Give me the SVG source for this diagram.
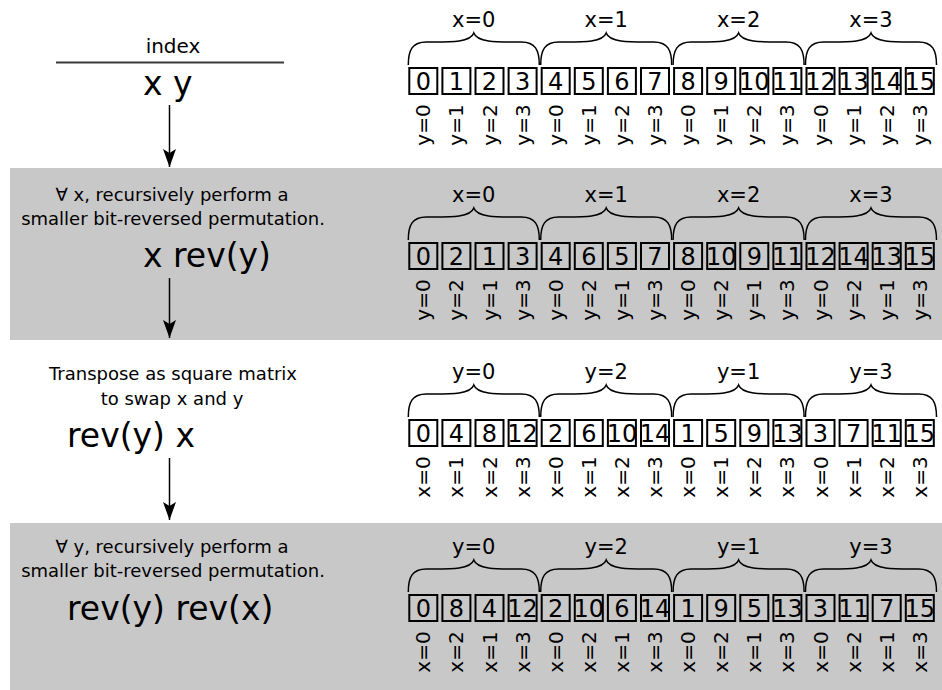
<svg xmlns="http://www.w3.org/2000/svg" xmlns:xlink="http://www.w3.org/1999/xlink" width="942" height="690" viewBox="0 0 942 690">
<style>
text{font-family:"DejaVu Sans","Liberation Sans",sans-serif;fill:#000}
.band{fill:#c8c8c8}
.cell{fill:none;stroke:#000;stroke-width:2}
.num{font-size:24px;text-anchor:middle}
.lab{font-size:20px;text-anchor:middle}
.blab{font-size:21px;text-anchor:middle}
.small{font-size:18px;text-anchor:middle}
.big{font-size:33px}
.brace{fill:none;stroke:#000;stroke-width:1.5}
.conn{stroke:#000;stroke-width:1.5;fill:none}
</style>
<defs>
<path id="br" class="brace" d="M0,0 C0,-15 4,-23 18,-23 C40,-23 62,-22 65.5,-32 C69,-22 91,-23 113,-23 C127,-23 131,-15 131,0"/>
<marker id="ah" viewBox="0 0 20 14" refX="18" refY="7" markerWidth="20" markerHeight="14" markerUnits="userSpaceOnUse" orient="auto">
<path d="M18,7 L0,0.5 L4,7 L0,13.5 Z" fill="#000"/>
</marker>
</defs>
<rect class="band" x="10" y="168" width="932" height="172"/>
<rect class="band" x="10" y="523" width="932" height="167"/>

<g id="label-index">
<text x="173" y="53" style="font-size:20px;text-anchor:middle">index</text>
<line x1="56" y1="62.5" x2="284" y2="62.5" stroke="#3a3a3a" stroke-width="2"/>
<text class="big" x="143" y="95">x y</text>
</g>
<g id="label-step1">
<text class="small" x="172" y="201">∀ x, recursively perform a</text>
<text class="small" x="173" y="225">smaller bit-reversed permutation.</text>
<text class="big" x="143" y="267">x rev(y)</text>
</g>
<g id="label-step2">
<text class="small" x="173" y="380">Transpose as square matrix</text>
<text class="small" x="172" y="405">to swap x and y</text>
<text class="big" x="67" y="447">rev(y) x</text>
</g>
<g id="label-step3">
<text class="small" x="172" y="553">∀ y, recursively perform a</text>
<text class="small" x="173" y="577">smaller bit-reversed permutation.</text>
<text class="big" x="67" y="620">rev(y) rev(x)</text>
</g>

<g id="connectors">
<line class="conn" x1="169.5" y1="105" x2="169.5" y2="167" marker-end="url(#ah)"/>
<line class="conn" x1="169.5" y1="278" x2="169.5" y2="338" marker-end="url(#ah)"/>
<line class="conn" x1="169.5" y1="458" x2="169.5" y2="520" marker-end="url(#ah)"/>
</g>

<g id="row1">
<use xlink:href="#br" x="408.3" y="65"/><use xlink:href="#br" x="540.7" y="65"/><use xlink:href="#br" x="673.1" y="65"/><use xlink:href="#br" x="805.5" y="65"/>
<text class="blab" x="473.8" y="27">x=0</text><text class="blab" x="606.2" y="27">x=1</text><text class="blab" x="738.6" y="27">x=2</text><text class="blab" x="871" y="27">x=3</text>
<rect class="cell" x="409.3" y="68" width="28" height="26"/><rect class="cell" x="442.4" y="68" width="28" height="26"/><rect class="cell" x="475.5" y="68" width="28" height="26"/><rect class="cell" x="508.6" y="68" width="28" height="26"/><rect class="cell" x="541.7" y="68" width="28" height="26"/><rect class="cell" x="574.8" y="68" width="28" height="26"/><rect class="cell" x="607.9" y="68" width="28" height="26"/><rect class="cell" x="641" y="68" width="28" height="26"/><rect class="cell" x="674.1" y="68" width="28" height="26"/><rect class="cell" x="707.2" y="68" width="28" height="26"/><rect class="cell" x="740.3" y="68" width="28" height="26"/><rect class="cell" x="773.4" y="68" width="28" height="26"/><rect class="cell" x="806.5" y="68" width="28" height="26"/><rect class="cell" x="839.6" y="68" width="28" height="26"/><rect class="cell" x="872.7" y="68" width="28" height="26"/><rect class="cell" x="905.8" y="68" width="28" height="26"/>
<text class="num" x="423.3" y="90">0</text><text class="num" x="456.4" y="90">1</text><text class="num" x="489.5" y="90">2</text><text class="num" x="522.6" y="90">3</text><text class="num" x="555.7" y="90">4</text><text class="num" x="588.8" y="90">5</text><text class="num" x="621.9" y="90">6</text><text class="num" x="655" y="90">7</text><text class="num" x="688.1" y="90">8</text><text class="num" x="721.2" y="90">9</text><text class="num" x="754.3" y="90">10</text><text class="num" x="787.4" y="90">11</text><text class="num" x="820.5" y="90">12</text><text class="num" x="853.6" y="90">13</text><text class="num" x="886.7" y="90">14</text><text class="num" x="919.8" y="90">15</text>
<text class="lab" transform="translate(430.3,125) rotate(-90)">y=0</text><text class="lab" transform="translate(463.4,125) rotate(-90)">y=1</text><text class="lab" transform="translate(496.5,125) rotate(-90)">y=2</text><text class="lab" transform="translate(529.6,125) rotate(-90)">y=3</text><text class="lab" transform="translate(562.7,125) rotate(-90)">y=0</text><text class="lab" transform="translate(595.8,125) rotate(-90)">y=1</text><text class="lab" transform="translate(628.9,125) rotate(-90)">y=2</text><text class="lab" transform="translate(662,125) rotate(-90)">y=3</text><text class="lab" transform="translate(695.1,125) rotate(-90)">y=0</text><text class="lab" transform="translate(728.2,125) rotate(-90)">y=1</text><text class="lab" transform="translate(761.3,125) rotate(-90)">y=2</text><text class="lab" transform="translate(794.4,125) rotate(-90)">y=3</text><text class="lab" transform="translate(827.5,125) rotate(-90)">y=0</text><text class="lab" transform="translate(860.6,125) rotate(-90)">y=1</text><text class="lab" transform="translate(893.7,125) rotate(-90)">y=2</text><text class="lab" transform="translate(926.8,125) rotate(-90)">y=3</text>
</g>

<g id="row2" transform="translate(0,175)">
<use xlink:href="#br" x="408.3" y="65"/><use xlink:href="#br" x="540.7" y="65"/><use xlink:href="#br" x="673.1" y="65"/><use xlink:href="#br" x="805.5" y="65"/>
<text class="blab" x="473.8" y="27">x=0</text><text class="blab" x="606.2" y="27">x=1</text><text class="blab" x="738.6" y="27">x=2</text><text class="blab" x="871" y="27">x=3</text>
<rect class="cell" x="409.3" y="68" width="28" height="26"/><rect class="cell" x="442.4" y="68" width="28" height="26"/><rect class="cell" x="475.5" y="68" width="28" height="26"/><rect class="cell" x="508.6" y="68" width="28" height="26"/><rect class="cell" x="541.7" y="68" width="28" height="26"/><rect class="cell" x="574.8" y="68" width="28" height="26"/><rect class="cell" x="607.9" y="68" width="28" height="26"/><rect class="cell" x="641" y="68" width="28" height="26"/><rect class="cell" x="674.1" y="68" width="28" height="26"/><rect class="cell" x="707.2" y="68" width="28" height="26"/><rect class="cell" x="740.3" y="68" width="28" height="26"/><rect class="cell" x="773.4" y="68" width="28" height="26"/><rect class="cell" x="806.5" y="68" width="28" height="26"/><rect class="cell" x="839.6" y="68" width="28" height="26"/><rect class="cell" x="872.7" y="68" width="28" height="26"/><rect class="cell" x="905.8" y="68" width="28" height="26"/>
<text class="num" x="423.3" y="90">0</text><text class="num" x="456.4" y="90">2</text><text class="num" x="489.5" y="90">1</text><text class="num" x="522.6" y="90">3</text><text class="num" x="555.7" y="90">4</text><text class="num" x="588.8" y="90">6</text><text class="num" x="621.9" y="90">5</text><text class="num" x="655" y="90">7</text><text class="num" x="688.1" y="90">8</text><text class="num" x="721.2" y="90">10</text><text class="num" x="754.3" y="90">9</text><text class="num" x="787.4" y="90">11</text><text class="num" x="820.5" y="90">12</text><text class="num" x="853.6" y="90">14</text><text class="num" x="886.7" y="90">13</text><text class="num" x="919.8" y="90">15</text>
<text class="lab" transform="translate(430.3,125) rotate(-90)">y=0</text><text class="lab" transform="translate(463.4,125) rotate(-90)">y=2</text><text class="lab" transform="translate(496.5,125) rotate(-90)">y=1</text><text class="lab" transform="translate(529.6,125) rotate(-90)">y=3</text><text class="lab" transform="translate(562.7,125) rotate(-90)">y=0</text><text class="lab" transform="translate(595.8,125) rotate(-90)">y=2</text><text class="lab" transform="translate(628.9,125) rotate(-90)">y=1</text><text class="lab" transform="translate(662,125) rotate(-90)">y=3</text><text class="lab" transform="translate(695.1,125) rotate(-90)">y=0</text><text class="lab" transform="translate(728.2,125) rotate(-90)">y=2</text><text class="lab" transform="translate(761.3,125) rotate(-90)">y=1</text><text class="lab" transform="translate(794.4,125) rotate(-90)">y=3</text><text class="lab" transform="translate(827.5,125) rotate(-90)">y=0</text><text class="lab" transform="translate(860.6,125) rotate(-90)">y=2</text><text class="lab" transform="translate(893.7,125) rotate(-90)">y=1</text><text class="lab" transform="translate(926.8,125) rotate(-90)">y=3</text>
</g>

<g id="row3" transform="translate(0,352)">
<use xlink:href="#br" x="408.3" y="65"/><use xlink:href="#br" x="540.7" y="65"/><use xlink:href="#br" x="673.1" y="65"/><use xlink:href="#br" x="805.5" y="65"/>
<text class="blab" x="473.8" y="27">y=0</text><text class="blab" x="606.2" y="27">y=2</text><text class="blab" x="738.6" y="27">y=1</text><text class="blab" x="871" y="27">y=3</text>
<rect class="cell" x="409.3" y="68" width="28" height="26"/><rect class="cell" x="442.4" y="68" width="28" height="26"/><rect class="cell" x="475.5" y="68" width="28" height="26"/><rect class="cell" x="508.6" y="68" width="28" height="26"/><rect class="cell" x="541.7" y="68" width="28" height="26"/><rect class="cell" x="574.8" y="68" width="28" height="26"/><rect class="cell" x="607.9" y="68" width="28" height="26"/><rect class="cell" x="641" y="68" width="28" height="26"/><rect class="cell" x="674.1" y="68" width="28" height="26"/><rect class="cell" x="707.2" y="68" width="28" height="26"/><rect class="cell" x="740.3" y="68" width="28" height="26"/><rect class="cell" x="773.4" y="68" width="28" height="26"/><rect class="cell" x="806.5" y="68" width="28" height="26"/><rect class="cell" x="839.6" y="68" width="28" height="26"/><rect class="cell" x="872.7" y="68" width="28" height="26"/><rect class="cell" x="905.8" y="68" width="28" height="26"/>
<text class="num" x="423.3" y="90">0</text><text class="num" x="456.4" y="90">4</text><text class="num" x="489.5" y="90">8</text><text class="num" x="522.6" y="90">12</text><text class="num" x="555.7" y="90">2</text><text class="num" x="588.8" y="90">6</text><text class="num" x="621.9" y="90">10</text><text class="num" x="655" y="90">14</text><text class="num" x="688.1" y="90">1</text><text class="num" x="721.2" y="90">5</text><text class="num" x="754.3" y="90">9</text><text class="num" x="787.4" y="90">13</text><text class="num" x="820.5" y="90">3</text><text class="num" x="853.6" y="90">7</text><text class="num" x="886.7" y="90">11</text><text class="num" x="919.8" y="90">15</text>
<text class="lab" transform="translate(430.3,125) rotate(-90)">x=0</text><text class="lab" transform="translate(463.4,125) rotate(-90)">x=1</text><text class="lab" transform="translate(496.5,125) rotate(-90)">x=2</text><text class="lab" transform="translate(529.6,125) rotate(-90)">x=3</text><text class="lab" transform="translate(562.7,125) rotate(-90)">x=0</text><text class="lab" transform="translate(595.8,125) rotate(-90)">x=1</text><text class="lab" transform="translate(628.9,125) rotate(-90)">x=2</text><text class="lab" transform="translate(662,125) rotate(-90)">x=3</text><text class="lab" transform="translate(695.1,125) rotate(-90)">x=0</text><text class="lab" transform="translate(728.2,125) rotate(-90)">x=1</text><text class="lab" transform="translate(761.3,125) rotate(-90)">x=2</text><text class="lab" transform="translate(794.4,125) rotate(-90)">x=3</text><text class="lab" transform="translate(827.5,125) rotate(-90)">x=0</text><text class="lab" transform="translate(860.6,125) rotate(-90)">x=1</text><text class="lab" transform="translate(893.7,125) rotate(-90)">x=2</text><text class="lab" transform="translate(926.8,125) rotate(-90)">x=3</text>
</g>

<g id="row4" transform="translate(0,527)">
<use xlink:href="#br" x="408.3" y="65"/><use xlink:href="#br" x="540.7" y="65"/><use xlink:href="#br" x="673.1" y="65"/><use xlink:href="#br" x="805.5" y="65"/>
<text class="blab" x="473.8" y="27">y=0</text><text class="blab" x="606.2" y="27">y=2</text><text class="blab" x="738.6" y="27">y=1</text><text class="blab" x="871" y="27">y=3</text>
<rect class="cell" x="409.3" y="68" width="28" height="26"/><rect class="cell" x="442.4" y="68" width="28" height="26"/><rect class="cell" x="475.5" y="68" width="28" height="26"/><rect class="cell" x="508.6" y="68" width="28" height="26"/><rect class="cell" x="541.7" y="68" width="28" height="26"/><rect class="cell" x="574.8" y="68" width="28" height="26"/><rect class="cell" x="607.9" y="68" width="28" height="26"/><rect class="cell" x="641" y="68" width="28" height="26"/><rect class="cell" x="674.1" y="68" width="28" height="26"/><rect class="cell" x="707.2" y="68" width="28" height="26"/><rect class="cell" x="740.3" y="68" width="28" height="26"/><rect class="cell" x="773.4" y="68" width="28" height="26"/><rect class="cell" x="806.5" y="68" width="28" height="26"/><rect class="cell" x="839.6" y="68" width="28" height="26"/><rect class="cell" x="872.7" y="68" width="28" height="26"/><rect class="cell" x="905.8" y="68" width="28" height="26"/>
<text class="num" x="423.3" y="90">0</text><text class="num" x="456.4" y="90">8</text><text class="num" x="489.5" y="90">4</text><text class="num" x="522.6" y="90">12</text><text class="num" x="555.7" y="90">2</text><text class="num" x="588.8" y="90">10</text><text class="num" x="621.9" y="90">6</text><text class="num" x="655" y="90">14</text><text class="num" x="688.1" y="90">1</text><text class="num" x="721.2" y="90">9</text><text class="num" x="754.3" y="90">5</text><text class="num" x="787.4" y="90">13</text><text class="num" x="820.5" y="90">3</text><text class="num" x="853.6" y="90">11</text><text class="num" x="886.7" y="90">7</text><text class="num" x="919.8" y="90">15</text>
<text class="lab" transform="translate(430.3,125) rotate(-90)">x=0</text><text class="lab" transform="translate(463.4,125) rotate(-90)">x=2</text><text class="lab" transform="translate(496.5,125) rotate(-90)">x=1</text><text class="lab" transform="translate(529.6,125) rotate(-90)">x=3</text><text class="lab" transform="translate(562.7,125) rotate(-90)">x=0</text><text class="lab" transform="translate(595.8,125) rotate(-90)">x=2</text><text class="lab" transform="translate(628.9,125) rotate(-90)">x=1</text><text class="lab" transform="translate(662,125) rotate(-90)">x=3</text><text class="lab" transform="translate(695.1,125) rotate(-90)">x=0</text><text class="lab" transform="translate(728.2,125) rotate(-90)">x=2</text><text class="lab" transform="translate(761.3,125) rotate(-90)">x=1</text><text class="lab" transform="translate(794.4,125) rotate(-90)">x=3</text><text class="lab" transform="translate(827.5,125) rotate(-90)">x=0</text><text class="lab" transform="translate(860.6,125) rotate(-90)">x=2</text><text class="lab" transform="translate(893.7,125) rotate(-90)">x=1</text><text class="lab" transform="translate(926.8,125) rotate(-90)">x=3</text>
</g>
</svg>
